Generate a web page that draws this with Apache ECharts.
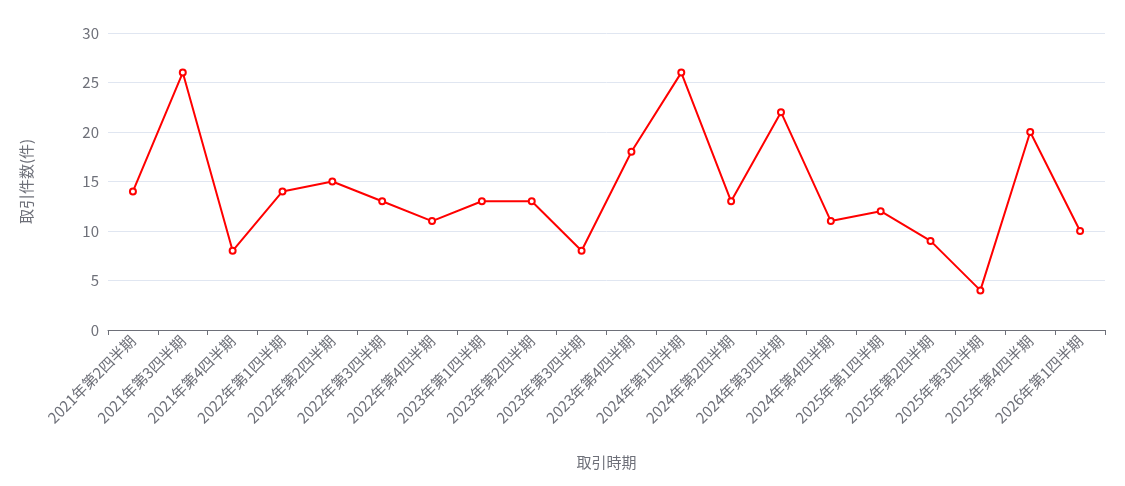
<!DOCTYPE html>
<html><head><meta charset="utf-8">
<script src="https://cdn.jsdelivr.net/npm/echarts@6/dist/echarts.min.js"></script>
<style>html,body{margin:0;padding:0;background:#fff}#c{width:1125px;height:486px}</style>
</head><body><div id="c"></div>
<script>
const categories = ["2021年第2四半期","2021年第3四半期","2021年第4四半期","2022年第1四半期","2022年第2四半期","2022年第3四半期","2022年第4四半期","2023年第1四半期","2023年第2四半期","2023年第3四半期","2023年第4四半期","2024年第1四半期","2024年第2四半期","2024年第3四半期","2024年第4四半期","2025年第1四半期","2025年第2四半期","2025年第3四半期","2025年第4四半期","2026年第1四半期"];
const counts = [14,26,8,14,15,13,11,13,13,8,18,26,13,22,11,12,9,4,20,10];
const chart = echarts.init(document.getElementById('c'));
chart.setOption({
  animation:false,
  textStyle:{fontFamily:"'Noto Sans CJK JP','Noto Sans',sans-serif"},
  grid:{left:108,right:20,top:33,bottom:156},
  xAxis:{type:'category',data:categories,name:'取引時期',nameLocation:'middle',nameGap:125,
    nameTextStyle:{fontSize:15,color:'#6E7079'},
    axisLine:{lineStyle:{color:'#6E7079',width:1}},
    axisTick:{show:true,alignWithLabel:false,length:5,lineStyle:{color:'#6E7079'}},
    axisLabel:{rotate:45,fontSize:15,color:'#6E7079',interval:0}},
  yAxis:{type:'value',min:0,max:30,interval:5,name:'取引件数(件)',nameLocation:'middle',nameGap:74,
    nameTextStyle:{fontSize:15,color:'#6E7079'},
    axisLine:{show:false},axisTick:{show:false},
    splitLine:{lineStyle:{color:'#E0E6F1'}},
    axisLabel:{fontSize:15,color:'#6E7079',margin:9}},
  series:[{type:'line',data:counts,symbol:'emptyCircle',symbolSize:6,
    lineStyle:{color:'#ff0000',width:2},itemStyle:{color:'#ff0000',borderWidth:2}}]
});
</script></body></html>
